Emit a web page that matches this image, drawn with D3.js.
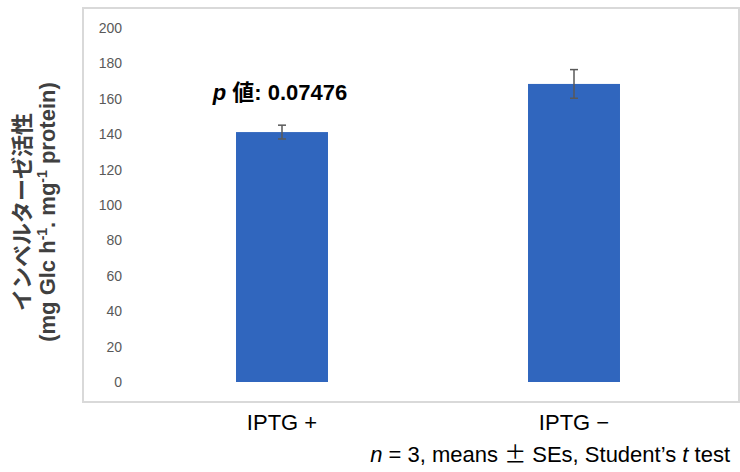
<!DOCTYPE html>
<html>
<head>
<meta charset="utf-8">
<script src="https://cdn.jsdelivr.net/npm/d3@7"></script>
<style>
  body { margin: 0; background: #fff; }
  svg { font-family: Arial, "Liberation Sans", "Noto Sans CJK JP", sans-serif; }
</style>
</head>
<body>
<div id="chart"></div>
<script>
// data
var categories = ["IPTG +", "IPTG \u2212"];
var means = [141.2, 168.4];
var errs = [3.9, 8.1];
var yTicks = [0, 20, 40, 60, 80, 100, 120, 140, 160, 180, 200];

var W = 740, H = 472;
var frame = {left: 83, top: 8, right: 739, bottom: 402};
var plot = {left: 136, right: 720, top: 28, bottom: 382};

var svg = d3.select("#chart").append("svg")
    .attr("width", W)
    .attr("height", H);

// outer chart frame
svg.append("rect")
    .attr("x", frame.left)
    .attr("y", frame.top)
    .attr("width", frame.right - frame.left)
    .attr("height", frame.bottom - frame.top)
    .attr("fill", "none")
    .attr("stroke", "#d9d9d9")
    .attr("stroke-width", 2);

var x = d3.scaleBand()
    .domain(categories)
    .range([plot.left, plot.right])
    .paddingInner(0.685)
    .paddingOuter(0.3425);

var y = d3.scaleLinear()
    .domain([0, 200])
    .range([plot.bottom, plot.top]);

// y axis labels only (no line, no ticks)
var yAxis = svg.append("g")
    .attr("transform", "translate(" + 128 + ",0)")
    .call(d3.axisLeft(y).tickValues(yTicks).tickSize(0).tickPadding(6));
yAxis.select(".domain").remove();
yAxis.selectAll("text")
    .attr("fill", "#595959")
    .style("font-size", "14px")
    .style("font-family", "Arial, 'Liberation Sans', sans-serif");

// bars
svg.selectAll("rect.bar")
    .data(means)
    .enter().append("rect")
    .attr("class", "bar")
    .attr("x", function(d, i) { return x(categories[i]); })
    .attr("y", function(d) { return y(d); })
    .attr("width", x.bandwidth())
    .attr("height", function(d) { return y(0) - y(d); })
    .attr("fill", "#3066be");

// error bars
var eb = svg.selectAll("g.err")
    .data(means)
    .enter().append("g")
    .attr("class", "err")
    .attr("stroke", "#595959")
    .attr("stroke-width", 1.5);
eb.append("line")
    .attr("x1", function(d, i) { return x(categories[i]) + x.bandwidth() / 2; })
    .attr("x2", function(d, i) { return x(categories[i]) + x.bandwidth() / 2; })
    .attr("y1", function(d, i) { return y(d - errs[i]); })
    .attr("y2", function(d, i) { return y(d + errs[i]); });
[-1, 1].forEach(function(s) {
  eb.append("line")
    .attr("x1", function(d, i) { return x(categories[i]) + x.bandwidth() / 2 - 4; })
    .attr("x2", function(d, i) { return x(categories[i]) + x.bandwidth() / 2 + 4; })
    .attr("y1", function(d, i) { return y(d + s * errs[i]); })
    .attr("y2", function(d, i) { return y(d + s * errs[i]); });
});

// x labels
var xAxis = svg.append("g")
    .attr("transform", "translate(0," + 430 + ")")
    .call(d3.axisBottom(x).tickSize(0).tickPadding(0));
xAxis.select(".domain").remove();
xAxis.selectAll("text")
    .attr("fill", "#000")
    .attr("y", 0)
    .attr("dy", 0)
    .style("font-size", "22px")
    .style("font-family", "Arial, 'Liberation Sans', sans-serif");

// p value annotation
var pt = svg.append("text")
    .attr("x", x(categories[0]) + x.bandwidth() / 2 - 2)
    .attr("y", 100)
    .attr("text-anchor", "middle")
    .attr("font-weight", "bold")
    .style("font-size", "22px")
    .attr("fill", "#000");
pt.append("tspan").attr("font-style", "italic").text("p");
pt.append("tspan").text(" \u5024: 0.07476");

// y title
var yt = svg.append("text")
    .attr("transform", "translate(30,212) rotate(-90)")
    .attr("text-anchor", "middle")
    .attr("font-weight", "bold")
    .attr("fill", "#404040")
    .style("font-size", "22px");
yt.append("tspan").attr("x", 0).attr("y", 0).text("\u30a4\u30f3\u30d9\u30eb\u30bf\u30fc\u30bc\u6d3b\u6027");
yt.append("tspan").text("(mg Glc h").attr("x", 0).attr("y", 25);
yt.append("tspan").attr("dy", -8).style("font-size", "14px").text("-1");
yt.append("tspan").attr("dy", 8).text(". mg");
yt.append("tspan").attr("dy", -8).style("font-size", "14px").text("-1");
yt.append("tspan").attr("dy", 8).text(" protein)");

// footnote
var fn = svg.append("text")
    .attr("x", 730)
    .attr("y", 462)
    .attr("text-anchor", "end")
    .attr("fill", "#000")
    .style("font-size", "22px");
fn.append("tspan").attr("font-style", "italic").text("n");
fn.append("tspan").text(" = 3, means ");
fn.append("tspan").style("font-family", "'Noto Sans CJK JP'").text("\u00b1");
fn.append("tspan").text(" SEs, Student\u2019s ");
fn.append("tspan").attr("font-style", "italic").text("t");
fn.append("tspan").text(" test");
</script>
</body>
</html>
